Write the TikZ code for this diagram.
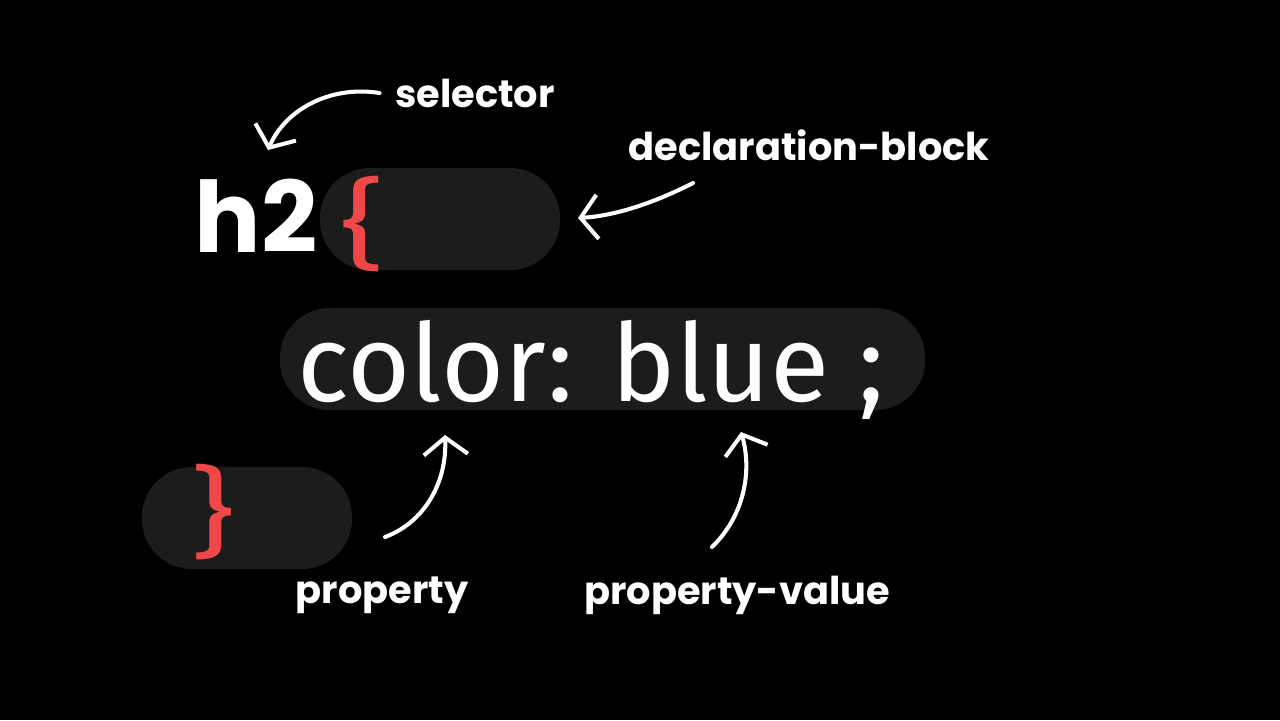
\documentclass[tikz,border=0pt]{standalone}
\usepackage{fontspec}
\setmainfont{Poppins}
\newfontfamily\codefont{Fira Sans}
\usepackage{tikz}
\usetikzlibrary{arrows.meta}
\definecolor{pillgray}{HTML}{1C1C1C}
\definecolor{bracered}{HTML}{F04848}
\tikzset{pill/.style={fill=pillgray, rounded corners=0.5cm, inner sep=0pt, minimum height=1.02cm},
         label/.style={text=white, font=\bfseries\fontsize{10.9pt}{13pt}\selectfont, inner sep=0pt},
         brace/.style={text=bracered, font=\codefont\fontsize{28pt}{32pt}\selectfont, inner sep=0pt},
         hint/.style={draw=white, line width=1.15pt, line cap=round,
                      -{Straight Barb[length=0.17cm, width=0.44cm, line width=1.15pt]}}}
\begin{document}
\begin{tikzpicture}[x=0.01cm, y=-0.01cm]
% Hintergrund:
\fill[black] (0,0) rectangle (1280,720);
\useasboundingbox (0,0) rectangle (1280,720);
% die Kapseln:
\node[pill, minimum width=2.40cm] (block) at (440,219) {};
\node[pill, minimum width=6.45cm] (decl) at (602.5,359) {};
\node[pill, minimum width=2.10cm] (close) at (247,518) {};
% Code:
\node[text=white, font=\bfseries\fontsize{28pt}{32pt}\selectfont, inner sep=0pt] (h2) at (256,216) {h2};
\node[brace, xscale=1.4, transform shape] (open) at (363,224) {\{};
\node[brace, xscale=1.4, transform shape] (shut) at (213,512) {\}};
\node[text=white, font=\codefont\fontsize{30.8pt}{34pt}\selectfont, inner sep=0pt] (code) at (591,370) {color: blue ;};
% Beschriftungen:
\node[label] (selector) at (475,93) {selector};
\node[label] (declblock) at (809,145) {declaration-block};
\node[label] (property) at (382,595) {property};
\node[label] (propvalue) at (737,595) {property-value};
% Pfeile:
\coordinate (seltip) at (268,150);
\coordinate (blocktip) at (578,218);
\coordinate (proptip) at (445,435);
\coordinate (valtip) at (741,432);
\draw[hint] ([xshift=-0.15cm]selector.west) .. controls (330,85) and (285,110) .. (seltip);
\draw[hint] ([shift={(-116,38)}]declblock.center) .. controls (650,205) and (612,216) .. (blocktip);
\draw[hint] ([shift={(3,-58)}]property.center) .. controls (425,522) and (447,482) .. (proptip);
\draw[hint] ([shift={(-25,-48)}]propvalue.center) .. controls (745,515) and (752,470) .. (valtip);
\end{tikzpicture}
\end{document}
